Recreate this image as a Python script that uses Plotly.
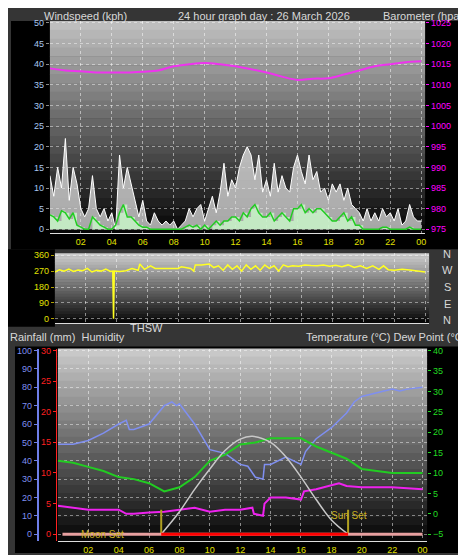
import plotly.graph_objects as go

W, H = 466, 555
def px(x): return x / W
def py(y): return 1 - y / H

# ---------------- data ----------------
wind_times = [i * 0.25 for i in range(97)]
wind_gust = [13, 8, 15, 10, 22, 7, 15, 11, 5, 3, 5, 13, 5, 3, 5, 2, 4, 0, 18, 10,
             15, 11, 7, 3, 7, 2, 1, 4, 2, 1, 2, 1, 2, 0, 1, 2, 5, 3, 5, 6,
             2, 5, 8, 4, 9, 16, 8, 12, 10, 15, 18, 20, 18, 12, 18, 9, 12, 8, 16, 9,
             13, 10, 9, 15, 18, 14, 11, 18, 12, 14, 9, 10, 7, 11, 9, 11, 7, 10, 6, 5,
             4, 2, 5, 2, 4, 2, 5, 3, 4, 2, 5, 1, 2, 6, 3, 2, 2]
wind_avg = [3.5, 3, 2, 4.5, 4, 2.5, 4, 1, 0.5, 0, 0, 3, 2, 1, 0.5, 0, 0, 1, 4, 6,
            3, 3, 2, 1, 0.5, 0.5, 0, 0, 0, 0, 0, 0, 0, 0, 0, 0.5, 1, 0.5, 1, 0,
            1, 0, 1, 2, 1, 2, 2, 3, 3, 2, 4, 3, 5, 6, 4, 3, 3, 4, 2, 3,
            4, 3, 2, 5, 5, 6, 4, 5, 4, 5, 5, 4, 3, 2, 2, 3, 4, 2, 3, 1,
            1, 0, 0, 0, 0, 0, 0.5, 0.5, 0, 0, 0, 0, 0, 0.5, 0, 0, 0]
baro_times = list(range(25))
baro = [1014, 1013.5, 1013.3, 1013, 1013, 1013, 1013.2, 1013.5, 1014.5, 1015, 1015.3, 1015,
        1014.5, 1013.8, 1013, 1012, 1011.2, 1011.5, 1011.6, 1012.5, 1013.5, 1014.5, 1015, 1015.5, 1015.7]

dir_times = [0, 0.3, 0.6, 0.9, 1.2, 1.5, 1.8, 2.1, 2.4, 2.7, 3.0, 3.3, 3.6, 3.75, 3.8, 3.85, 4.2, 4.6, 5.0,
             5.4, 5.5, 5.8, 6.2, 6.5, 7.5, 8.0, 8.2, 8.8, 9.0, 9.1, 9.5, 10.0, 10.3, 10.6, 10.9, 11.2,
             11.5, 11.8, 12.1, 12.4, 12.7, 13.0, 13.3, 13.6, 13.9, 14.2, 14.5, 14.8, 15.1, 15.4, 15.8,
             16.2, 16.6, 17.0, 17.4, 17.8, 18.2, 18.6, 19.0, 19.4, 19.8, 20.2, 20.6, 21.0, 21.3, 21.6,
             22.0, 22.5, 23.0, 23.5, 24.0]
wind_dir = [265, 278, 270, 282, 268, 276, 272, 285, 265, 275, 270, 282, 268, 270, 0, 270, 268, 272, 285,
            275, 310, 280, 300, 285, 285, 285, 295, 285, 270, 305, 305, 310, 290, 300, 275, 305,
            280, 300, 270, 305, 280, 300, 275, 305, 285, 300, 270, 305, 295, 300, 298,
            305, 302, 300, 305, 298, 303, 295, 305, 290, 300, 285, 300, 280, 300, 278,
            275, 280, 276, 270, 265]

th_times = [0, 1, 2, 3, 4, 4.5, 4.7, 5, 6, 7, 7.5, 7.8, 8, 9, 10, 11, 12, 12.5, 13, 13.5, 13.6, 14, 15, 16,
            16.3, 17, 18, 19, 19.5, 20, 21, 22, 22.5, 23, 24]
humidity = [49, 49, 51, 55, 60, 62, 57, 57, 60, 70, 72, 70, 71, 60, 46, 44, 38, 37, 31, 30, 38, 38, 42, 38,
            45, 52, 58, 66, 72, 75, 77, 79, 78, 79, 80]
temp_times = [0, 1, 2, 3, 4, 5, 6, 7, 8, 9, 10, 11, 12, 13, 14, 15, 16, 17, 18, 19, 20, 21, 22, 23, 24]
temperature = [13, 12.5, 11.5, 10.5, 9, 8.5, 7.5, 5.5, 6.5, 9, 13, 14.5, 17, 17.5, 18.5, 18.5, 18.5,
               16.5, 15, 13.5, 11, 10.5, 10, 10, 10]
dew_times = [0, 1, 2, 3, 4, 4.5, 5, 6, 7, 8, 9, 10, 11, 12, 12.8, 12.9, 13.5, 13.6, 14, 15, 15.9, 16, 16.2,
             17, 18, 18.5, 19, 20, 22, 24]
dew_point = [2, 1.5, 1, 1, 1, 0, 0, 0.3, 0.5, 1, 1.5, 0.5, 1, 1, 1.5, 0, -0.5, 2.5, 4, 4, 3.5, 3.5, 5.5,
             6, 7, 7.5, 6.8, 6.5, 6.5, 6]
sun_times = [6.8, 8, 9, 10, 11, 12, 12.8, 14, 15, 16, 17, 18, 19.1]
sun_curve = [-5, 0.5, 6, 11, 15.5, 18.3, 19, 17.5, 14, 9, 3.5, -1.5, -5]
daylight_times = [6.8, 19.1]
rain_times = [0.3, 24]
rain = [0, 0]
hour_ticks = [2, 4, 6, 8, 10, 12, 14, 16, 18, 20, 22, 24]
hour_labels = ["02", "04", "06", "08", "10", "12", "14", "16", "18", "20", "22", "00"]

fig = go.Figure()

# panel 1
fig.add_trace(go.Scatter(x=wind_times, y=wind_gust, xaxis="x", yaxis="y", mode="lines",
                         line=dict(color="white", width=1), fill="tozeroy",
                         fillcolor="rgba(235,235,235,0.7)"))
fig.add_trace(go.Scatter(x=wind_times, y=wind_avg, xaxis="x", yaxis="y", mode="none",
                         fill="tozeroy", fillcolor="rgba(200,245,200,0.85)", line=dict(shape="hv")))
fig.add_trace(go.Scatter(x=wind_times, y=wind_avg, xaxis="x", yaxis="y", mode="lines",
                         line=dict(color="#22cc22", width=1.5)))
fig.add_trace(go.Scatter(x=baro_times, y=baro, xaxis="x", yaxis="y2", mode="lines",
                         line=dict(color="#ee33ee", width=2, shape="spline")))
# panel 2
fig.add_trace(go.Scatter(x=dir_times, y=wind_dir, xaxis="x2", yaxis="y3", mode="lines",
                         line=dict(color="#ffff22", width=1.5)))
# panel 3
fig.add_trace(go.Scatter(x=th_times, y=humidity, xaxis="x3", yaxis="y4", mode="lines",
                         line=dict(color="#7f8ff0", width=1.5)))
fig.add_trace(go.Scatter(x=temp_times, y=temperature, xaxis="x3", yaxis="y5", mode="lines",
                         line=dict(color="#22cc22", width=2)))
fig.add_trace(go.Scatter(x=dew_times, y=dew_point, xaxis="x3", yaxis="y5", mode="lines",
                         line=dict(color="#ee22ee", width=2)))
fig.add_trace(go.Scatter(x=sun_times, y=sun_curve, xaxis="x3", yaxis="y5", mode="lines",
                         line=dict(color="#c8c8c8", width=1.5, shape="spline")))
fig.add_trace(go.Scatter(x=rain_times, y=rain, xaxis="x3", yaxis="y6", mode="lines",
                         line=dict(color="#e8a0a0", width=3)))
fig.add_trace(go.Scatter(x=daylight_times, y=rain, xaxis="x3", yaxis="y6", mode="lines",
                         line=dict(color="#ff0000", width=3)))
fig.add_trace(go.Scatter(x=[daylight_times[0]] * 2 + [None] + [daylight_times[1]] * 2,
                         y=[-5, 1] + [None] + [-5, 1], xaxis="x3", yaxis="y5", mode="lines",
                         line=dict(color="#b0a020", width=2)))

shapes = []
def block(x0, y0, x1, y1, c):
    shapes.append(dict(type="rect", xref="paper", yref="paper", x0=px(x0), x1=px(x1),
                       y0=py(y1), y1=py(y0), fillcolor=c, line=dict(width=0), layer="below"))
def gradient(x0, y0, x1, y1, top, n=24):
    for i in range(n):
        v = int(top * (1 - i / n))
        block(x0, y0 + (y1 - y0) * i / n, x1, y0 + (y1 - y0) * (i + 1) / n + 0.5, f"rgb({v},{v},{v})")

block(3, 10, 466, 240, "black")
block(0, 240, 47, 318, "black")
block(7, 338, 466, 546, "black")
gradient(42, 10, 418, 224, 190)
gradient(47, 244, 422, 314, 205)
gradient(50, 340, 420, 534, 200)

def xax(dom, anchor, rng, labels=True):
    return dict(domain=[px(dom[0]), px(dom[1])], anchor=anchor, range=rng, tickvals=hour_ticks,
                ticktext=hour_labels, showticklabels=labels, tickfont=dict(color="#e0e000", size=9),
                showgrid=True, gridcolor="rgba(255,255,255,0.5)", griddash="dot", zeroline=False,
                showline=True, linecolor="#dddddd", ticks="", fixedrange=True)

grid = dict(showgrid=True, gridcolor="rgba(255,255,255,0.45)", griddash="dot", zeroline=False)
annos = []
def txt(x, y, s, color="#d8d8d8", size=11, xanchor="left"):
    annos.append(dict(x=px(x), y=py(y), xref="paper", yref="paper", text=s, showarrow=False,
                      font=dict(color=color, size=size), xanchor=xanchor, yanchor="middle"))

txt(34, 5, "Windspeed (kph)")
txt(257, 5, "24 hour graph day : 26 March 2026", xanchor="center")
txt(458, 5, "Barometer (hpa)", xanchor="right")
txt(120, 319, "THSW")
txt(0, 328, "Rainfall (mm)  Humidity")
txt(461, 328, "Temperature (°C) Dew Point (°C)", xanchor="right")
for lab, yy in zip(["N", "W", "S", "E", "N"], [245, 261, 278, 295, 311]):
    txt(440, yy, lab, size=11, xanchor="center")
txt(95, 527, "Moon Set", color="#c8b020", size=10, xanchor="center")
txt(342, 508, "Sun Set", color="#c8b020", size=10, xanchor="center")

fig.update_layout(
    width=W, height=H, margin=dict(l=0, r=0, t=0, b=0), paper_bgcolor="#353535",
    plot_bgcolor="rgba(0,0,0,0)", showlegend=False, font=dict(family="Liberation Sans"),
    shapes=shapes, annotations=annos,
    xaxis=xax((42, 418), "y", [0, 24.25]),
    yaxis=dict(domain=[py(224), py(10)], range=[-1, 50.5], tickvals=list(range(0, 51, 5)),
               tickfont=dict(color="#a8c8f0", size=9), ticks="outside", ticklen=3,
               tickcolor="#888", fixedrange=True, **grid),
    yaxis2=dict(overlaying="y", side="right", range=[974, 1025.5], tickvals=list(range(975, 1026, 5)),
                tickfont=dict(color="#ff00ff", size=9), ticks="outside", ticklen=3, tickcolor="#ff00ff",
                showgrid=False, zeroline=False, fixedrange=True),
    xaxis2=xax((47, 422), "y3", [0, 24.25], labels=False),
    yaxis3=dict(domain=[py(314), py(244)], anchor="x2", range=[-22, 371], tickvals=[0, 90, 180, 270, 360],
                tickfont=dict(color="#e0e000", size=9), ticks="outside", ticklen=3, tickcolor="#b0a000",
                fixedrange=True, **grid),
    xaxis3=xax((50, 420), "y4", [0, 24.3]),
    yaxis4=dict(domain=[py(534), py(340)], anchor="free", position=px(30), range=[-3.8, 101.1],
                tickvals=list(range(0, 101, 10)), tickfont=dict(color="#7f8ff0", size=9), showline=True,
                linecolor="#6f7fe8", linewidth=2, ticks="outside", ticklen=3, tickcolor="#6f7fe8",
                fixedrange=True, **grid),
    yaxis5=dict(overlaying="y4", side="right", anchor="x3", range=[-6.7, 40.5], tickvals=list(range(-5, 41, 5)),
                tickfont=dict(color="#22dd22", size=9), ticks="outside", ticklen=3, tickcolor="#22dd22",
                showgrid=False, zeroline=False, fixedrange=True),
    yaxis6=dict(overlaying="y4", anchor="free", position=px(48), side="left", range=[-1.13, 30.3],
                tickvals=[0, 5, 10, 15, 20, 25, 30], tickfont=dict(color="#ff2020", size=9), showline=True,
                linecolor="#ff2020", linewidth=1, ticks="outside", ticklen=3, tickcolor="#ff2020",
                showgrid=False, zeroline=False, fixedrange=True),
)
fig.write_html("out.html")
